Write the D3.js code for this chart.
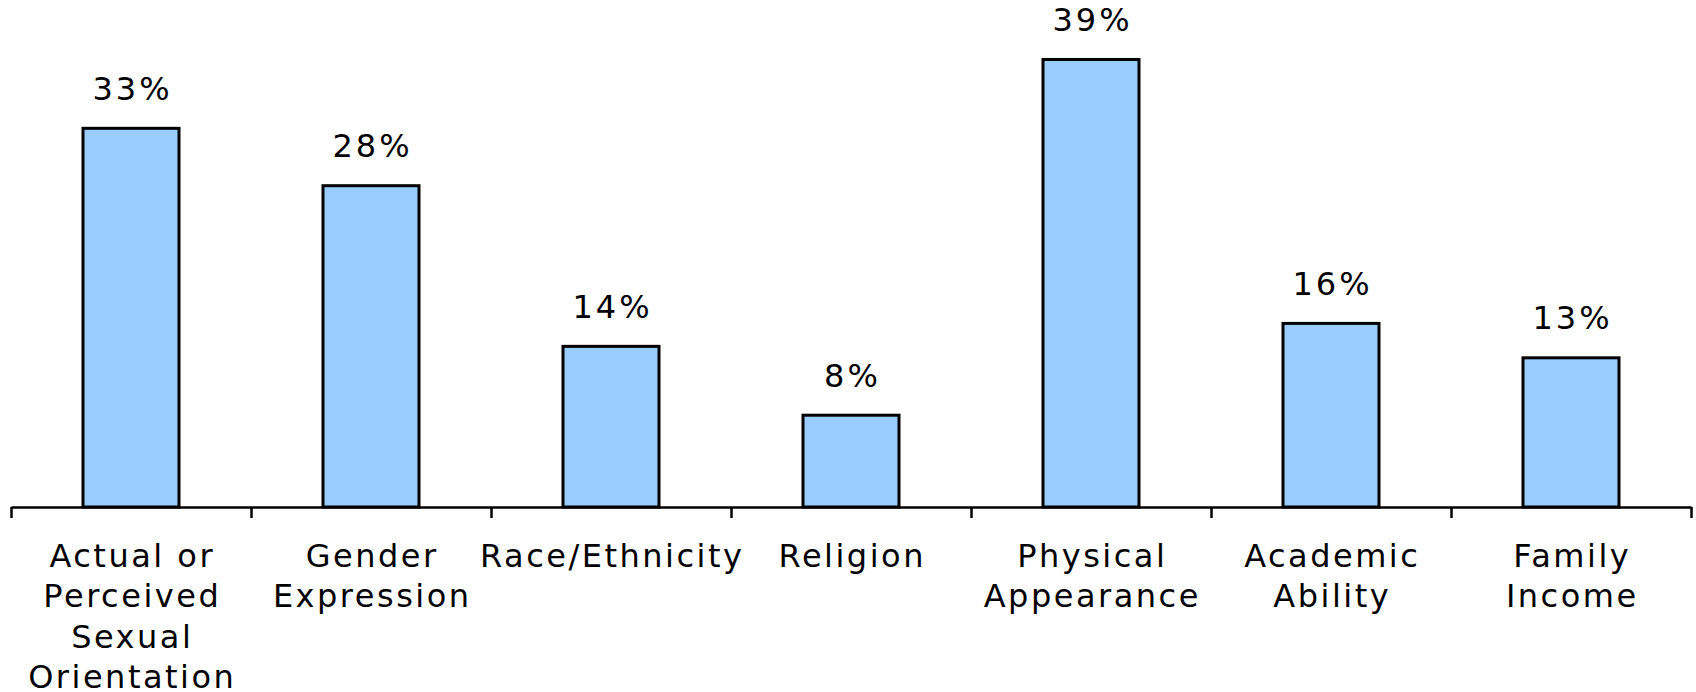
<!DOCTYPE html>
<html>
<head>
<meta charset="utf-8">
<script src="https://cdn.jsdelivr.net/npm/d3@7"></script>
<style>
  body { margin: 0; background: #fff; }
  svg { display: block; font-family: "DejaVu Sans", Verdana, sans-serif; }
</style>
</head>
<body>
<div id="chart"></div>
<script>
// chart data
let categories = ["Actual or Perceived Sexual Orientation", "Gender Expression", "Race/Ethnicity",
    "Religion", "Physical Appearance", "Academic Ability", "Family Income"];
let labelLines = [
    ["Actual or", "Perceived", "Sexual", "Orientation"],
    ["Gender", "Expression"],
    ["Race/Ethnicity"],
    ["Religion"],
    ["Physical", "Appearance"],
    ["Academic", "Ability"],
    ["Family", "Income"]
];
let values = [33, 28, 14, 8, 39, 16, 13];

let svgWidth = 1696;
let svgHeight = 692;
let baseY = 507;
let catSpacing = 2.5;
let valSpacing = 3;

let svg = d3.select("#chart").append("svg")
    .attr("width", svgWidth)
    .attr("height", svgHeight);

let x = d3.scaleBand()
    .domain(categories)
    .range([11, 1691])
    .padding(0);

// boundaries for the tick marks
let xEdge = d3.scaleLinear()
    .domain([0, categories.length])
    .range([11, 1691]);

let y = d3.scaleLinear()
    .domain([0, 40])
    .range([baseY, baseY - 459]);

let barWidth = x.bandwidth() * 0.4;

svg.selectAll("rect.bar")
    .data(values)
    .enter()
    .append("rect")
    .attr("class", "bar")
    .attr("x", function (d, i) { return x(categories[i]) + (x.bandwidth() - barWidth) / 2; })
    .attr("y", function (d) { return y(d); })
    .attr("width", barWidth)
    .attr("height", function (d) { return baseY - y(d); })
    .attr("fill", "#99ccff")
    .attr("stroke", "#000")
    .attr("stroke-width", 3);

svg.selectAll("text.val")
    .data(values)
    .enter()
    .append("text")
    .attr("class", "val")
    .attr("x", function (d, i) { return x(categories[i]) + x.bandwidth() / 2 + valSpacing / 2; })
    .attr("y", function (d) { return y(d) - 28.5; })
    .attr("text-anchor", "middle")
    .attr("font-size", 32)
    .attr("letter-spacing", valSpacing)
    .attr("fill", "#000")
    .text(function (d) { return d + "%"; });

// axis with ticks on category boundaries
let axis = svg.append("g")
    .attr("transform", "translate(0," + baseY + ")")
    .call(d3.axisBottom(xEdge).ticks(categories.length).tickSize(11).tickSizeOuter(0).tickFormat(""));
axis.select(".domain").attr("stroke", "#000").attr("stroke-width", 2.5);
axis.selectAll(".tick line").attr("stroke", "#000").attr("stroke-width", 2.5);

// category labels
let lbl = svg.selectAll("text.cat")
    .data(labelLines)
    .enter()
    .append("text")
    .attr("class", "cat")
    .attr("text-anchor", "middle")
    .attr("font-size", 32)
    .attr("letter-spacing", catSpacing)
    .attr("fill", "#000");

lbl.selectAll("tspan")
    .data(function (d, i) { return d.map(function (t) { return {t: t, i: i}; }); })
    .enter()
    .append("tspan")
    .attr("x", function (d) { return x(categories[d.i]) + x.bandwidth() / 2 + catSpacing / 2; })
    .attr("y", function (d, j) { return 566.7 + j * 40.5; })
    .text(function (d) { return d.t; });
</script>
</body>
</html>
